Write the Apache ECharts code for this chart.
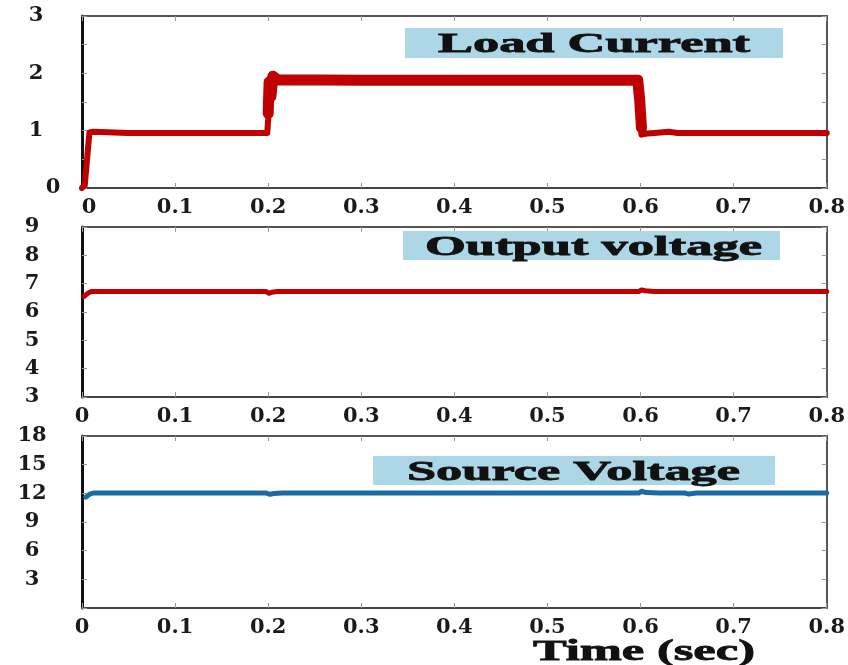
<!DOCTYPE html>
<html><head><meta charset="utf-8">
<script src="https://cdn.jsdelivr.net/npm/echarts/dist/echarts.min.js"></script>
<style>html,body{margin:0;padding:0;background:#fff}#c{width:848px;height:665px}</style>
</head><body><div id="c"></div>
<script>
// ---- data ----
const xTicks = [0, 0.1, 0.2, 0.3, 0.4, 0.5, 0.6, 0.7, 0.8];
const panelTitles = ['Load Current', 'Output voltage', 'Source Voltage'];
const xTitle = 'Time (sec)';

const loadT = [0, 0.003, 0.006, 0.008, 0.012, 0.05, 0.1, 0.15, 0.199, 0.2, 0.201, 0.202, 0.204, 0.207, 0.22, 0.26, 0.3, 0.35, 0.4, 0.45, 0.5, 0.55, 0.597, 0.599, 0.6, 0.601, 0.603, 0.607, 0.615, 0.63, 0.64, 0.7, 0.75, 0.8];
const loadI = [0, 0.05, 0.6, 0.97, 0.98, 0.96, 0.96, 0.96, 0.96, 1.2, 1.75, 1.45, 1.97, 1.9, 1.88, 1.89, 1.88, 1.89, 1.88, 1.89, 1.88, 1.89, 1.89, 1.6, 1.2, 0.93, 0.9, 0.95, 0.96, 0.98, 0.96, 0.96, 0.96, 0.96];
// ripple envelope on the 2 A level (drawn as a thicker trace)
const rippleT = [0.2, 0.201, 0.203, 0.205, 0.21, 0.3, 0.4, 0.5, 0.597, 0.599, 0.601];
const rippleI = [1.3, 1.85, 1.6, 1.95, 1.89, 1.88, 1.88, 1.88, 1.88, 1.55, 1.05];

const outT = [0.002, 0.004, 0.007, 0.01, 0.05, 0.1, 0.15, 0.198, 0.201, 0.204, 0.21, 0.25, 0.3, 0.4, 0.5, 0.598, 0.601, 0.605, 0.615, 0.65, 0.7, 0.8];
const outV = [6.55, 6.58, 6.68, 6.72, 6.72, 6.72, 6.72, 6.72, 6.66, 6.7, 6.72, 6.72, 6.72, 6.72, 6.72, 6.72, 6.78, 6.75, 6.72, 6.72, 6.72, 6.72];

const srcT = [0.004, 0.006, 0.009, 0.012, 0.05, 0.1, 0.15, 0.198, 0.202, 0.206, 0.215, 0.25, 0.3, 0.4, 0.5, 0.598, 0.601, 0.606, 0.62, 0.648, 0.652, 0.66, 0.7, 0.8];
const srcV = [11.6, 11.7, 11.95, 12.03, 12.03, 12.03, 12.03, 12.03, 11.9, 11.98, 12.03, 12.03, 12.03, 12.03, 12.03, 12.03, 12.22, 12.08, 12.03, 12.03, 11.92, 12.03, 12.03, 12.03];

const yRanges = [[0, 3, 0.5], [3, 9, 1], [0, 18, 3]];

// ---- build ----
const pairs = (t, v) => t.map((x, i) => [x, v[i]]);
const TICK_FONT = '"DejaVu Serif"';
const TITLE_FONT = '"Liberation Serif"';
const grids = [
  {left: 82, top: 16, width: 746, height: 172},
  {left: 82, top: 227, width: 746, height: 170},
  {left: 82, top: 436, width: 746, height: 172}
];
const tickStyle = {show: true, inside: true, length: 5, lineStyle: {color: '#999', width: 1}};
const xAxes = [], yAxes = [];
grids.forEach((g, i) => {
  xAxes.push({
    type: 'value', gridIndex: i, position: 'bottom', min: 0, max: 0.8, interval: 0.1,
    axisLine: {show: true, onZero: false, lineStyle: {color: '#444', width: 2}},
    axisTick: tickStyle,
    splitLine: {show: false},
    axisLabel: {
      margin: 9, color: '#1a1a1a', fontFamily: TICK_FONT, fontWeight: 'bold', fontSize: 21,
      formatter: v => { const s = v === 0 ? '0' : String(parseFloat(v.toFixed(1))); return (i === 0 && v === 0) ? '{z|0}' : s; },
      rich: {z: {fontFamily: TICK_FONT, fontWeight: 'bold', fontSize: 21, color: '#1a1a1a', padding: [0, 0, 0, 14]}}
    }
  });
  xAxes.push({
    type: 'value', gridIndex: i, position: 'top', min: 0, max: 0.8, interval: 0.1,
    axisLine: {show: true, onZero: false, lineStyle: {color: '#555', width: 2}},
    axisTick: tickStyle,
    splitLine: {show: false}, axisLabel: {show: false}
  });
  const r = yRanges[i];
  yAxes.push({
    type: 'value', gridIndex: i, position: 'left', min: r[0], max: r[1], interval: r[2],
    axisLine: {show: true, onZero: false, lineStyle: {color: '#111', width: 3}},
    axisTick: tickStyle,
    splitLine: {show: false},
    axisLabel: {
      align: 'center', margin: i === 0 ? 46 : 50, color: '#1a1a1a', fontFamily: TICK_FONT, fontWeight: 'bold', fontSize: 21,
      formatter: v => {
        if (!Number.isInteger(v)) return '';
        if (i === 2 && v === 0) return '';
        if (i === 0 && v === 0) return '{z|0}';
        return String(v);
      },
      rich: {z: {fontFamily: TICK_FONT, fontWeight: 'bold', fontSize: 21, color: '#1a1a1a', padding: [0, 0, 0, 34]}}
    }
  });
  yAxes.push({
    type: 'value', gridIndex: i, position: 'right', min: r[0], max: r[1], interval: r[2],
    axisLine: {show: true, onZero: false, lineStyle: {color: '#555', width: 2}},
    axisTick: tickStyle,
    splitLine: {show: false}, axisLabel: {show: false}
  });
});

const RED = '#c00000', BLUE = '#1a6aa6';
const line = (name, data, xi, yi, color, w) => ({
  name, type: 'line', data, xAxisIndex: xi, yAxisIndex: yi, showSymbol: false, symbol: 'none',
  lineStyle: {color, width: w, join: 'round', cap: 'round'}, itemStyle: {color}, animation: false, z: 3
});

// measure text to fit the stretched lettering of the original
const ctx = document.createElement('canvas').getContext('2d');
function fitScale(text, size, target) { ctx.font = 'bold ' + size + 'px ' + TITLE_FONT; return target / ctx.measureText(text).width; }

function titleBox(text, box, cx, cy, tw) {
  return [
    {type: 'rect', shape: {x: box[0], y: box[1], width: box[2], height: box[3]}, style: {fill: '#add6e6'}, z: 10},
    {type: 'text', x: cx, y: cy, scaleX: fitScale(text, 27, tw), z: 11,
     style: {text, fontFamily: TITLE_FONT, fontWeight: 'bold', fontSize: 27, fill: '#111',
             stroke: '#111', lineWidth: 0.8, align: 'center', verticalAlign: 'middle'}}
  ];
}
const graphics = [].concat(
  titleBox(panelTitles[0], [405, 28, 378, 30], 594, 45, 312),
  titleBox(panelTitles[1], [403, 231, 377, 29], 593.5, 248, 337),
  titleBox(panelTitles[2], [373, 456, 402, 29], 573.5, 473, 333),
  [{type: 'text', x: 644, y: 652, scaleX: fitScale(xTitle, 30, 222), z: 11,
    style: {text: xTitle, fontFamily: TITLE_FONT, fontWeight: 'bold', fontSize: 30, fill: '#111',
            stroke: '#111', lineWidth: 0.8, align: 'center', verticalAlign: 'middle'}}]
);

const chart = echarts.init(document.getElementById('c'));
chart.setOption({
  backgroundColor: '#fff',
  animation: false,
  grid: grids.map(g => Object.assign({show: false, containLabel: false}, g)),
  xAxis: xAxes,
  yAxis: yAxes,
  series: [
    line('Load Current', pairs(loadT, loadI), 0, 0, RED, 6),
    line('Load Current ripple', pairs(rippleT, rippleI), 0, 0, RED, 11),
    line('Output voltage', pairs(outT, outV), 2, 2, RED, 5),
    line('Source Voltage', pairs(srcT, srcV), 4, 4, BLUE, 5)
  ],
  graphic: graphics
});
</script>
</body></html>
